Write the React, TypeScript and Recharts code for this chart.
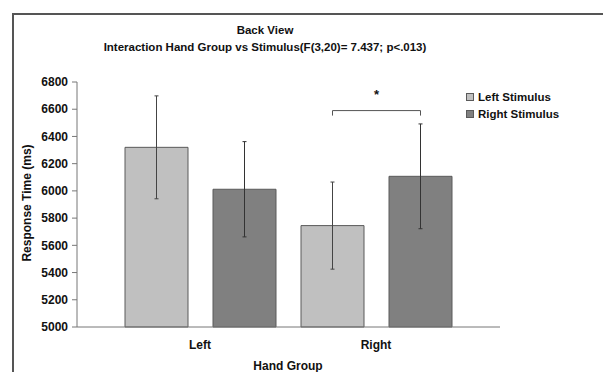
import { BarChart, Bar, XAxis, YAxis, ErrorBar, LabelList } from "recharts";

const categories = ["Left", "Right"];
const leftStimulus = [6320, 5745];
const rightStimulus = [6012, 6107];
const leftStimulusErr = [378, 320];
const rightStimulusErr = [350, 385];
const yTicks = [5000, 5200, 5400, 5600, 5800, 6000, 6200, 6400, 6600, 6800];
const bracketValue = 6590;

const FONT = '"Liberation Sans", Arial, sans-serif';
const LIGHT = "#c0c0c0";
const DARK = "#808080";
const EDGE = "#5a5a5a";

const data = categories.map((c, i) => ({
  group: c,
  left: leftStimulus[i],
  right: rightStimulus[i],
  leftErr: leftStimulusErr[i],
  rightErr: rightStimulusErr[i],
}));

const BAR_SIZE = 63;
const BAR_GAP = 25;

// significance bracket over the "Right" hand group, drawn from the right-stimulus bar
function Bracket(props: any) {
  const { x, y, width, height, index, value } = props;
  if (index !== 1) return null;
  const pxPerUnit = height / (value - 5000);
  const by = y - (bracketValue - value) * pxPerUnit;
  const x2 = x + width / 2;
  const x1 = x2 - width - BAR_GAP;
  return (
    <g>
      <path
        d={`M${x1},${by + 5} L${x1},${by} L${x2},${by} L${x2},${by + 5}`}
        stroke="#555"
        strokeWidth={1}
        fill="none"
      />
      <text
        x={(x1 + x2) / 2}
        y={by - 12}
        textAnchor="middle"
        fontFamily={FONT}
        fontWeight="bold"
        fontSize={13}
        fill="#111"
      >
        *
      </text>
    </g>
  );
}

export default function App() {
  return (
    <div
      style={{
        position: "absolute",
        left: 0,
        top: 0,
        width: 603,
        height: 372,
        background: "#fff",
        overflow: "hidden",
        fontFamily: FONT,
      }}
    >
      {/* frame of the original figure */}
      <div
        style={{
          position: "absolute",
          left: 12,
          top: 13,
          width: 600,
          height: 400,
          borderTop: "2px solid #555",
          borderLeft: "2px solid #555",
        }}
      />
      <div
        style={{
          position: "absolute",
          left: 0,
          width: 530,
          top: 22,
          textAlign: "center",
          fontWeight: "bold",
          fontSize: 11.5,
          lineHeight: "17px",
          color: "#111",
        }}
      >
        Back View
        <br />
        Interaction Hand Group vs Stimulus(F(3,20)= 7.437; p&lt;.013)
      </div>
      <div
        style={{
          position: "absolute",
          left: 27,
          top: 203,
          transform: "translate(-50%, -50%) rotate(-90deg)",
          whiteSpace: "nowrap",
          fontWeight: "bold",
          fontSize: 12,
          color: "#111",
        }}
      >
        Response Time (ms)
      </div>
      <div
        style={{
          position: "absolute",
          left: 0,
          width: 576,
          top: 359,
          textAlign: "center",
          fontWeight: "bold",
          fontSize: 12,
          color: "#111",
        }}
      >
        Hand Group
      </div>
      {[
        { label: "Left Stimulus", color: LIGHT, top: 91 },
        { label: "Right Stimulus", color: DARK, top: 108 },
      ].map((item) => (
        <div
          key={item.label}
          style={{
            position: "absolute",
            left: 466,
            top: item.top,
            display: "flex",
            alignItems: "center",
            fontWeight: "bold",
            fontSize: 11.5,
            color: "#111",
          }}
        >
          <span
            style={{
              display: "inline-block",
              width: 6,
              height: 6,
              background: item.color,
              border: `1px solid ${EDGE}`,
              marginRight: 4,
            }}
          />
          {item.label}
        </div>
      ))}
      <div style={{ position: "absolute", left: 0, top: 0 }}>
        <BarChart
          width={603}
          height={372}
          data={data}
          margin={{ top: 82, right: 103, bottom: 15, left: 20 }}
          barGap={BAR_GAP}
          barSize={BAR_SIZE}
        >
          <XAxis
            dataKey="group"
            padding={{ left: 35, right: 36 }}
            axisLine={{ stroke: "#777" }}
            tickLine={false}
            tickMargin={7}
            height={30}
            tick={{ fontFamily: FONT, fontWeight: "bold", fontSize: 12, fill: "#111" }}
          />
          <YAxis
            domain={[5000, 6800]}
            ticks={yTicks}
            interval={0}
            width={57}
            tickSize={5}
            tickMargin={4}
            axisLine={{ stroke: "#777" }}
            tickLine={{ stroke: "#777" }}
            tick={{ fontFamily: FONT, fontWeight: "bold", fontSize: 12, fill: "#111" }}
          />
          <Bar dataKey="left" fill={LIGHT} stroke={EDGE} strokeWidth={1} isAnimationActive={false}>
            <ErrorBar dataKey="leftErr" width={2} stroke="#444" strokeWidth={1} />
          </Bar>
          <Bar dataKey="right" fill={DARK} stroke={EDGE} strokeWidth={1} isAnimationActive={false}>
            <ErrorBar dataKey="rightErr" width={2} stroke="#333" strokeWidth={1} />
            <LabelList dataKey="right" content={Bracket} />
          </Bar>
        </BarChart>
      </div>
    </div>
  );
}
